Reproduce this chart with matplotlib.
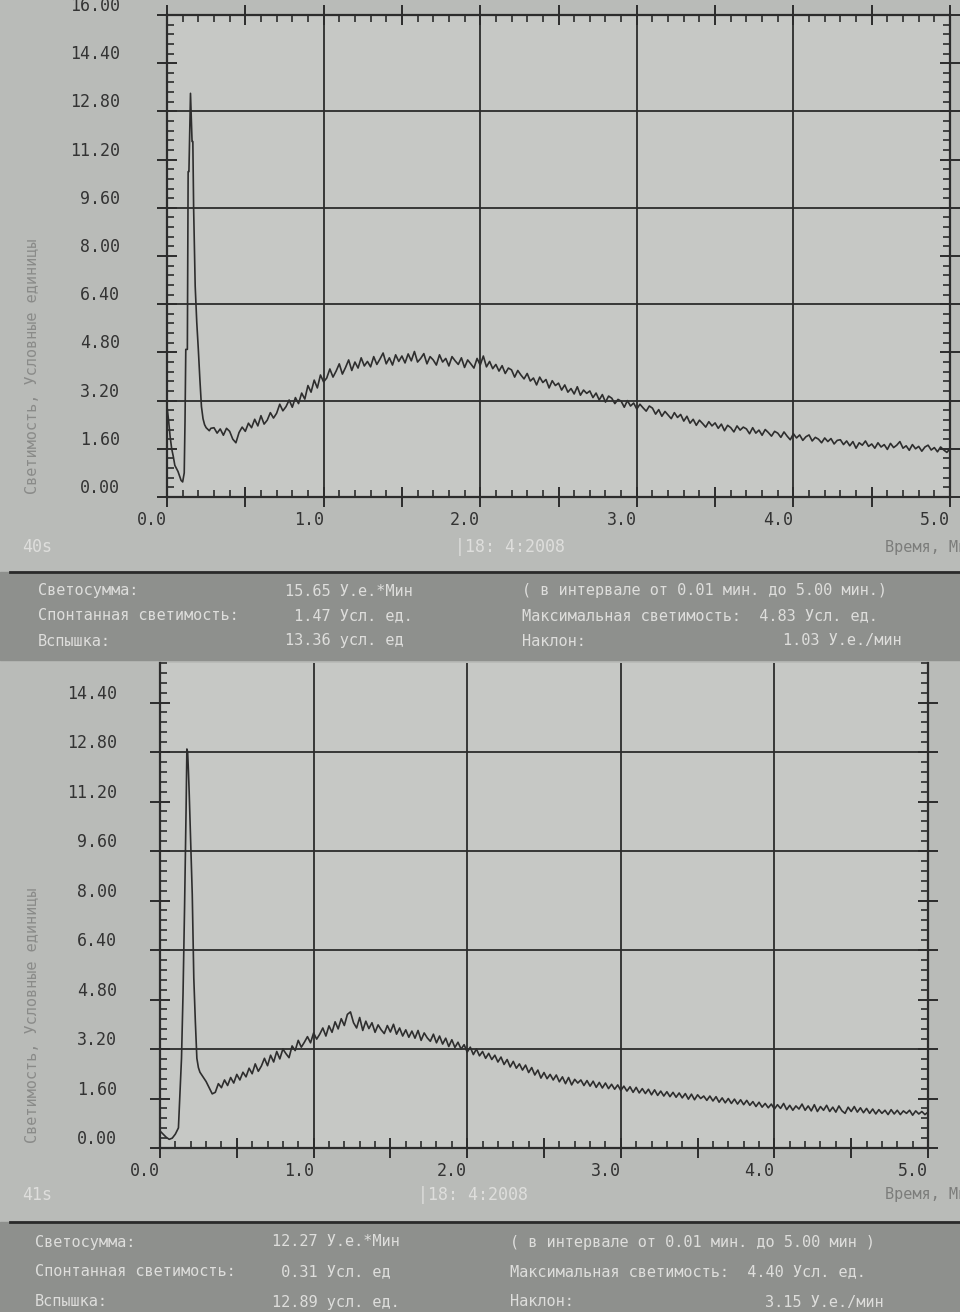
import numpy as np
import matplotlib
matplotlib.use("Agg")
import matplotlib.pyplot as plt
from matplotlib.patches import Rectangle

plt.rcParams['font.family'] = ['DejaVu Sans Mono']

# ---- data read off the two printouts (time in min, light in arb. units) ----
# run 40s: start, flash and recovery
t1_start = [0.00, 0.01, 0.02, 0.03, 0.04, 0.05, 0.06, 0.07, 0.08, 0.09,
            0.10, 0.11, 0.115, 0.12, 0.13, 0.135, 0.14, 0.15, 0.155, 0.16,
            0.165, 0.17, 0.18, 0.19, 0.20, 0.21, 0.22, 0.23, 0.24, 0.25,
            0.26, 0.27, 0.28]
y1_start = [3.00, 2.55, 2.00, 1.60, 1.35, 1.05, 0.95, 0.85, 0.70, 0.55,
            0.50, 0.80, 2.50, 4.90, 4.90, 10.80, 10.80, 13.40, 12.60, 11.80,
            11.80, 9.60, 7.00, 5.80, 4.90, 3.90, 3.00, 2.60, 2.40, 2.30,
            2.25, 2.20, 2.28]
t1_rest = np.round(np.arange(0.30, 5.001, 0.02), 2)
y1_rest = [2.30, 2.12, 2.26, 2.05, 2.28, 2.18, 1.92, 1.80, 2.14, 2.32,
           2.18, 2.45, 2.30, 2.58, 2.36, 2.70, 2.42, 2.55, 2.80, 2.62,
           2.78, 3.08, 2.86, 3.00, 3.22, 2.98, 3.30, 3.10, 3.45, 3.25,
           3.70, 3.48, 3.88, 3.62, 4.05, 3.82, 3.95, 4.25, 3.98, 4.18,
           4.42, 4.08, 4.30, 4.55, 4.20, 4.48, 4.28, 4.62, 4.35, 4.50,
           4.32, 4.66, 4.40, 4.58, 4.78, 4.42, 4.62, 4.38, 4.72, 4.50,
           4.68, 4.45, 4.75, 4.52, 4.83, 4.48, 4.60, 4.76, 4.42, 4.66,
           4.55, 4.38, 4.72, 4.48, 4.60, 4.35, 4.66, 4.52, 4.40, 4.62,
           4.30, 4.55, 4.42, 4.28, 4.60, 4.38, 4.68, 4.32, 4.50, 4.26,
           4.40, 4.18, 4.36, 4.10, 4.28, 4.22, 3.98, 4.20, 4.05, 3.92,
           4.10, 3.85, 3.95, 3.72, 3.98, 3.80, 3.90, 3.62, 3.86, 3.70,
           3.78, 3.55, 3.72, 3.48, 3.60, 3.42, 3.66, 3.38, 3.55, 3.44,
           3.52, 3.30, 3.45, 3.22, 3.40, 3.15, 3.35, 3.28, 3.10, 3.24,
           3.18, 2.98, 3.20, 3.02, 3.12, 2.92, 3.08, 2.96, 2.85, 3.02,
           2.95, 2.75, 2.90, 2.68, 2.84, 2.72, 2.60, 2.80, 2.64, 2.74,
           2.52, 2.68, 2.45, 2.58, 2.38, 2.55, 2.44, 2.32, 2.50, 2.36,
           2.46, 2.28, 2.42, 2.20, 2.38, 2.30, 2.16, 2.36, 2.22, 2.32,
           2.26, 2.10, 2.30, 2.12, 2.22, 2.05, 2.24, 2.14, 2.02, 2.18,
           2.12, 1.98, 2.16, 2.02, 1.90, 2.10, 1.96, 2.06, 1.88, 2.00,
           2.06, 1.86, 1.98, 1.92, 1.80, 1.96, 1.84, 1.94, 1.76, 1.88,
           1.90, 1.74, 1.86, 1.70, 1.84, 1.62, 1.80, 1.72, 1.86, 1.68,
           1.76, 1.62, 1.80, 1.66, 1.74, 1.58, 1.78, 1.64, 1.72, 1.84,
           1.62, 1.70, 1.55, 1.74, 1.60, 1.68, 1.52, 1.66, 1.72, 1.56,
           1.64, 1.50, 1.66, 1.56, 1.48, 1.60]

# run 41s
t2_start = [0.00, 0.02, 0.04, 0.06, 0.08, 0.10, 0.12, 0.13, 0.14, 0.15,
            0.16, 0.17, 0.175, 0.18, 0.185, 0.19, 0.20, 0.21, 0.22, 0.23,
            0.24, 0.25, 0.26, 0.28, 0.30, 0.32, 0.34]
y2_start = [0.55, 0.45, 0.35, 0.28, 0.32, 0.45, 0.65, 1.80, 2.90, 5.00,
            7.80, 11.00, 12.90, 12.80, 12.20, 11.50, 9.90, 8.20, 5.50, 4.10,
            2.90, 2.60, 2.45, 2.30, 2.15, 1.95, 1.75]
t2_rest = np.round(np.arange(0.36, 5.001, 0.02), 2)
y2_rest = [1.80, 2.08, 1.95, 2.20, 2.02, 2.28, 2.10, 2.38, 2.20, 2.45,
           2.30, 2.58, 2.40, 2.72, 2.48, 2.65, 2.90, 2.66, 3.00, 2.78,
           3.12, 2.88, 3.20, 3.05, 2.92, 3.30, 3.15, 3.48, 3.26, 3.42,
           3.60, 3.40, 3.72, 3.52, 3.68, 3.88, 3.62, 3.95, 3.74, 4.08,
           3.85, 4.18, 3.96, 4.32, 4.40, 4.05, 3.88, 4.22, 3.80, 4.10,
           3.86, 4.05, 3.74, 3.98, 3.82, 3.70, 3.96, 3.75, 4.00, 3.68,
           3.88, 3.62, 3.82, 3.58, 3.78, 3.55, 3.80, 3.48, 3.72, 3.56,
           3.45, 3.68, 3.40, 3.62, 3.36, 3.55, 3.28, 3.50, 3.25, 3.42,
           3.20, 3.34, 3.10, 3.26, 3.02, 3.20, 2.98, 3.12, 2.90, 3.06,
           2.86, 3.00, 2.78, 2.94, 2.70, 2.86, 2.62, 2.80, 2.58, 2.72,
           2.52, 2.68, 2.44, 2.60, 2.36, 2.52, 2.26, 2.44, 2.24, 2.38,
           2.20, 2.36, 2.14, 2.30, 2.08, 2.28, 2.04, 2.22, 2.10, 2.20,
           2.02, 2.18, 2.00, 2.16, 1.96, 2.12, 1.94, 2.10, 1.92, 2.06,
           1.90, 2.04, 1.86, 2.00, 1.84, 1.98, 1.80, 1.96, 1.78, 1.92,
           1.76, 1.90, 1.72, 1.88, 1.70, 1.84, 1.68, 1.82, 1.66, 1.80,
           1.64, 1.78, 1.62, 1.76, 1.58, 1.74, 1.56, 1.72, 1.60, 1.68,
           1.54, 1.68, 1.52, 1.66, 1.48, 1.62, 1.46, 1.60, 1.44, 1.58,
           1.42, 1.56, 1.40, 1.54, 1.38, 1.50, 1.34, 1.48, 1.32, 1.44,
           1.30, 1.42, 1.26, 1.40, 1.28, 1.44, 1.24, 1.38, 1.22, 1.36,
           1.26, 1.42, 1.22, 1.36, 1.20, 1.40, 1.18, 1.34, 1.22, 1.38,
           1.18, 1.32, 1.16, 1.36, 1.20, 1.12, 1.32, 1.18, 1.34, 1.16,
           1.30, 1.14, 1.28, 1.12, 1.26, 1.10, 1.24, 1.12, 1.22, 1.08,
           1.24, 1.10, 1.22, 1.08, 1.20, 1.12, 1.22, 1.06, 1.20, 1.10,
           1.18, 1.08, 1.16]

y_ticks = [0.0, 1.6, 3.2, 4.8, 6.4, 8.0, 9.6, 11.2, 12.8, 14.4, 16.0]
y_labels = ["0.00", "1.60", "3.20", "4.80", "6.40", "8.00", "9.60",
            "11.20", "12.80", "14.40", "16.00"]
x_ticks = [0.0, 0.5, 1.0, 1.5, 2.0, 2.5, 3.0, 3.5, 4.0, 4.5, 5.0]
x_labels = ["0.0", "", "1.0", "", "2.0", "", "3.0", "", "4.0", "", "5.0"]

run_ids = ["40s", "41s"]
run_date = "|18: 4:2008"
x_title = "Время, Мин"
y_title = "Светимость, Условные единицы"

info_names = ["Светосумма:", "Спонтанная светимость:", "Вспышка:"]
info_vals1 = ["15.65 У.е.*Мин", " 1.47 Усл. ед.", "13.36 усл. ед"]
info_vals2 = ["12.27 У.е.*Мин", " 0.31 Усл. ед", "12.89 усл. ед."]
info_right1 = ["( в интервале от 0.01 мин. до 5.00 мин.)",
               "Максимальная светимость:  4.83 Усл. ед.",
               "Наклон:"]
info_right2 = ["( в интервале от 0.01 мин. до 5.00 мин )",
               "Максимальная светимость:  4.40 Усл. ед.",
               "Наклон:"]
slope_vals = ["1.03 У.е./мин", "3.15 У.е./мин"]

W, H = 960, 1312
paper = "#b9bbb8"
plot_bg = "#c6c8c5"
band = "#8e908d"
ink = "#2c2c2c"
light = "#dededc"

fig = plt.figure(figsize=(W / 100, H / 100), dpi=100, facecolor=paper)


def fx(x):
    return x / W


def fy(y):
    return 1 - y / H


def panel(ax, ts, ys, tr, yr, ytop, lab_pad):
    ax.set_facecolor(plot_bg)
    ax.plot(list(ts) + list(tr), list(ys) + list(yr), color="#2e2e2e", lw=1.2)
    for g in [1, 2, 3, 4]:
        ax.axvline(g, color=ink, lw=1.3, zorder=1)
    for g in [3.2, 6.4, 9.6, 12.8]:
        ax.axhline(g, color=ink, lw=1.3, zorder=1)
    keep = [i for i, v in enumerate(y_ticks) if v <= ytop]
    ax.set_xticks(x_ticks, x_labels)
    ax.set_xticks(np.arange(0, 5.01, 0.1), minor=True)
    ax.set_yticks([y_ticks[i] for i in keep], [y_labels[i] for i in keep])
    ax.set_yticks([v for v in np.arange(0, 16.01, 0.32) if v <= ytop], minor=True)
    ax.set_xlim(0, 5.0)
    ax.set_ylim(0, ytop)
    ax.tick_params(which="both", top=True, right=True, colors=ink,
                   labelcolor="#333333", labelsize=12)
    ax.tick_params(which="major", direction="inout", length=14, width=1.4)
    ax.tick_params(which="minor", direction="in", length=5, width=1.2)
    ax.tick_params(axis="y", which="major", pad=lab_pad)
    ax.tick_params(axis="x", which="major", pad=3)
    plt.setp(ax.get_yticklabels(), va="bottom")
    plt.setp(ax.get_xticklabels(), ha="right")
    for s in ax.spines.values():
        s.set_color(ink)
        s.set_linewidth(1.6)


# top printout
ax1 = fig.add_axes([fx(167), fy(497), fx(783), 482 / H])
panel(ax1, t1_start, y1_start, t1_rest, y1_rest, 16.0, 27)

# bottom printout (its top edge is cut by the photo seam)
ax2 = fig.add_axes([fx(160), fy(1148), fx(768), 485 / H])
panel(ax2, t2_start, y2_start, t2_rest, y2_rest, 15.68, 24)
ax2.spines["top"].set_visible(False)
ax2.tick_params(which="both", top=False)

# info bands and separators
for y0, y1 in [(572, 660), (1222, 1312)]:
    fig.add_artist(Rectangle((0, fy(y1)), 1, (y1 - y0) / H,
                             transform=fig.transFigure, color=band, zorder=0))
    fig.add_artist(plt.Line2D([0.01, 1], [fy(y0), fy(y0)],
                              transform=fig.transFigure, color="#2a2a2a", lw=2))

fs = 11
for i, (ylab, yrow, ybase, xl, xv, xr, xs) in enumerate([
        (366, 547, 591, 38, 285, 522, 783),
        (1015, 1195, 1242, 35, 272, 510, 765)]):
    fig.text(fx(33), fy(ylab), y_title, rotation=90, ha="center", va="center",
             color="#8a8b89", fontsize=11)
    fig.text(fx(22), fy(yrow), run_ids[i], color=light, fontsize=12, va="center")
    fig.text(fx(455 if i == 0 else 418), fy(yrow), run_date, color=light,
             fontsize=12, va="center")
    fig.text(fx(885), fy(yrow), x_title, color="#7c7d7b", fontsize=11, va="center")
    vals = info_vals1 if i == 0 else info_vals2
    rights = info_right1 if i == 0 else info_right2
    step = 25 if i == 0 else 30
    for r in range(3):
        yy = fy(ybase + r * step)
        fig.text(fx(xl), yy, info_names[r], color=light, fontsize=fs, va="center")
        fig.text(fx(xv), yy, vals[r], color=light, fontsize=fs, va="center")
        fig.text(fx(xr), yy, rights[r], color=light, fontsize=fs, va="center")
    fig.text(fx(xs), fy(ybase + 2 * step), slope_vals[i], color=light,
             fontsize=fs, va="center")

fig.savefig("out.png", dpi=100, facecolor=paper)
